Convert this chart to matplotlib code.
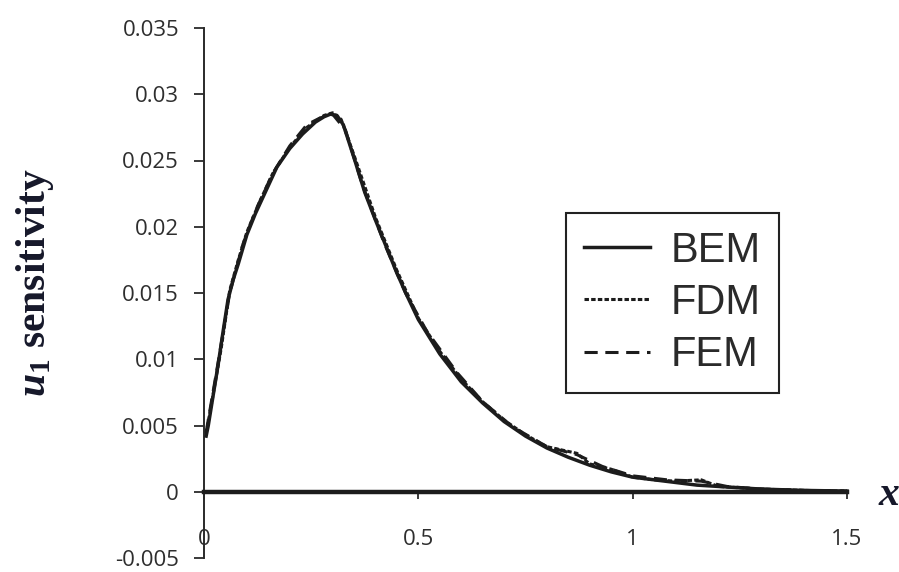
import matplotlib
matplotlib.use("Agg")
import matplotlib.pyplot as plt

plt.rcParams['lines.scale_dashes'] = False
plt.rcParams['mathtext.fontset'] = 'custom'
plt.rcParams['mathtext.it'] = 'Liberation Serif:italic:bold'
plt.rcParams['mathtext.rm'] = 'Liberation Serif:bold'

# BEM sensitivity curve
bem_x = [0.005, 0.01, 0.02, 0.033, 0.045, 0.056, 0.068, 0.08, 0.10, 0.12,
         0.14, 0.17, 0.20, 0.23, 0.26, 0.28, 0.295, 0.31, 0.325, 0.35,
         0.375, 0.40, 0.425, 0.45, 0.475, 0.50, 0.55, 0.60, 0.65, 0.70,
         0.75, 0.80, 0.85, 0.90, 0.95, 1.00, 1.05, 1.10, 1.15, 1.20,
         1.25, 1.30, 1.40, 1.50]
bem_y = [0.0042, 0.0050, 0.0070, 0.0096, 0.0122, 0.0145, 0.0160, 0.0172, 0.0194, 0.0210,
         0.0224, 0.0245, 0.0259, 0.0270, 0.0279, 0.0283, 0.0285, 0.0284, 0.0277, 0.0252,
         0.0226, 0.0205, 0.0185, 0.0165, 0.0147, 0.0130, 0.0104, 0.0083, 0.0067, 0.0053,
         0.0042, 0.0033, 0.0026, 0.0020, 0.0015, 0.0011, 0.0009, 0.0007, 0.0005, 0.0004,
         0.0003, 0.0002, 0.0001, 0.00005]

# FDM
fdm_x = [0.005, 0.02, 0.04, 0.06, 0.08, 0.10, 0.13, 0.16, 0.20, 0.24,
         0.28, 0.30, 0.32, 0.35, 0.40, 0.45, 0.50, 0.55, 0.60, 0.65,
         0.70, 0.75, 0.80, 0.87, 0.90, 0.95, 1.00, 1.05, 1.10, 1.16,
         1.20, 1.30, 1.40, 1.50]
fdm_y = [0.0044, 0.0071, 0.0108, 0.0152, 0.0175, 0.0196, 0.0219, 0.0240, 0.0260, 0.0275,
         0.0284, 0.0286, 0.0281, 0.0254, 0.0207, 0.0167, 0.0131, 0.0106, 0.0085, 0.0068,
         0.0054, 0.0043, 0.0034, 0.0029, 0.0021, 0.0017, 0.0011, 0.0009, 0.0008, 0.0009,
         0.0004, 0.0002, 0.0001, 0.00005]

# FEM
fem_x = [0.005, 0.03, 0.06, 0.09, 0.12, 0.16, 0.20, 0.24, 0.27, 0.30,
         0.33, 0.37, 0.42, 0.47, 0.52, 0.59, 0.65, 0.72, 0.80, 0.87,
         0.93, 1.00, 1.08, 1.16, 1.22, 1.30, 1.40, 1.50]
fem_y = [0.0045, 0.0092, 0.0150, 0.0186, 0.0212, 0.0240, 0.0261, 0.0277, 0.0282, 0.0285,
         0.0273, 0.0231, 0.0188, 0.0150, 0.0121, 0.0090, 0.0068, 0.0049, 0.0034, 0.0028,
         0.0019, 0.0012, 0.0009, 0.0008, 0.0004, 0.0002, 0.0001, 0.00005]

y_ticks = [-0.005, 0, 0.005, 0.01, 0.015, 0.02, 0.025, 0.03, 0.035]
y_labels = ['-0.005', '0', '0.005', '0.01', '0.015', '0.02', '0.025', '0.03', '0.035']
x_ticks = [0, 0.5, 1, 1.5]
x_labels = ['0', '0.5', '1', '1.5']

fig = plt.figure(figsize=(8.99, 5.72), dpi=100)
ax = fig.add_axes([204 / 899, 14 / 572, 643 / 899, 530 / 572])

ink = '#1c1c1c'
ax.plot(bem_x, bem_y, color=ink, lw=2.5, label='BEM', clip_on=False, zorder=3)
ax.plot(fdm_x, fdm_y, color=ink, lw=2.2, ls=(0, (3.2, 1.6)), label='FDM', clip_on=False, zorder=3)
ax.plot(fem_x, fem_y, color=ink, lw=2.2, ls=(0, (9.5, 5.5)), label='FEM', clip_on=False, zorder=3)

ax.set_xlim(0, 1.5)
ax.set_ylim(-0.005, 0.035)

for s in ['top', 'right']:
    ax.spines[s].set_visible(False)
ax.spines['bottom'].set_position(('data', 0))
ax.spines['bottom'].set_linewidth(3.2)
ax.spines['bottom'].set_color(ink)
ax.spines['left'].set_linewidth(1.4)
ax.spines['left'].set_color('#2a2a2a')

tick_font = dict(family='Open Sans', size=16, color='#2e2e2e')
ax.set_yticks(y_ticks)
ax.set_yticklabels(y_labels, **tick_font)
ax.set_xticks(x_ticks)
ax.set_xticklabels(x_labels, **tick_font)
ax.tick_params(axis='y', direction='out', length=7, width=1.3, pad=11, colors='#2a2a2a')
ax.tick_params(axis='x', direction='out', length=5, width=1.3, pad=22, colors='#2a2a2a')
for t in ax.get_xticklabels() + ax.get_yticklabels():
    t.set_color('#2e2e2e')

fig.text(35 / 899, 1 - 283 / 572, r'$u_1$ sensitivity', rotation=90, ha='center', va='center',
         family='Liberation Serif', weight='bold', size=30, color='#16182a')
fig.text(878 / 899, 1 - 495 / 572, r'$x$', ha='left', va='center',
         family='Liberation Serif', size=30, color='#16182a')

leg = ax.legend(loc='upper left', bbox_to_anchor=(566 / 899, 1 - 213 / 572),
                bbox_transform=fig.transFigure, borderaxespad=0, fancybox=False,
                edgecolor='#222222', framealpha=1, handlelength=1.6, handletextpad=0.5,
                labelspacing=0.3, borderpad=0.42,
                prop=dict(family='Liberation Sans', size=30))
leg.get_frame().set_linewidth(1.5)
for t in leg.get_texts():
    t.set_color('#2a2a2a')

fig.savefig('out.png', dpi=100, facecolor='white')
